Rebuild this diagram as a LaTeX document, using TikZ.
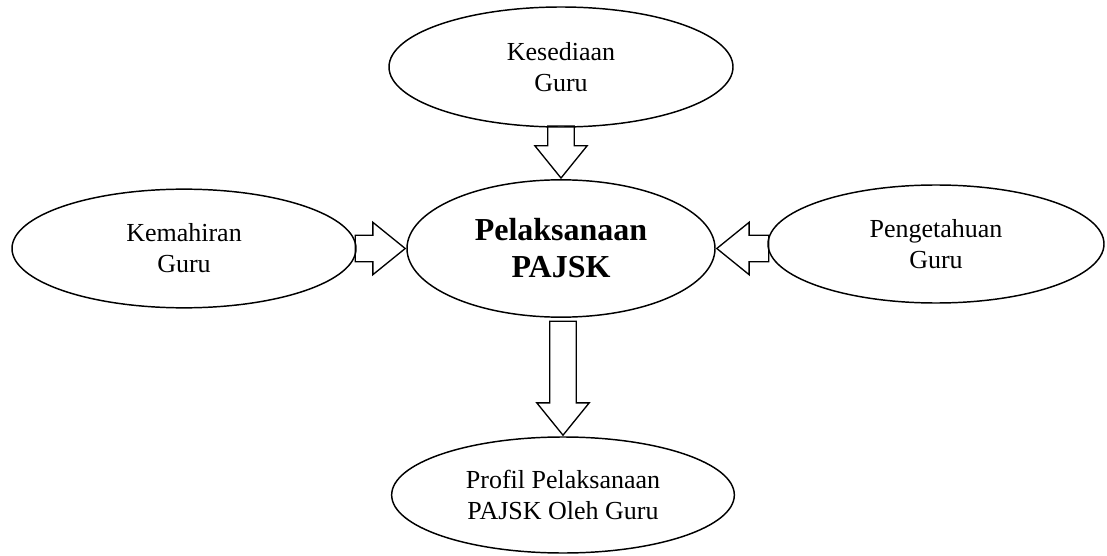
\documentclass[tikz,border=0pt]{standalone}
\usepackage{fontspec}
\setmainfont{Liberation Serif}
\usetikzlibrary{shapes.geometric,shapes.arrows}
\tikzset{
  factor/.style={draw, line width=1.1pt, ellipse, align=center, inner sep=0pt,
    font=\fontsize{19.5}{23.25}\selectfont},
  mainfactor/.style={factor, font=\fontsize{24}{27.75}\selectfont\bfseries},
  blockarrow/.style={draw, line width=1pt, single arrow, anchor=tip,
    inner xsep=0pt, inner ysep=9.4pt, single arrow head extend=9.75pt,
    single arrow tip angle=78, minimum height=#1},
  blockarrow/.default=39pt
}
\begin{document}
\begin{tikzpicture}[x=0.75pt,y=0.75pt,yscale=-1,xscale=1]
\useasboundingbox (0,0) rectangle (1107,556);

%Ellipses
\node[factor, minimum width=258pt, minimum height=90pt] (kes) at (561,67) {Kesediaan\\Guru};
\node[mainfactor, minimum width=231pt, minimum height=103pt] (pel) at (561,248.5) {Pelaksanaan\\PAJSK};
\node[factor, minimum width=258pt, minimum height=89pt] (kem) at (184,248.5) {Kemahiran\\Guru};
\node[factor, minimum width=252pt, minimum height=88.5pt] (peng) at (936,244) {Pengetahuan\\Guru};
\node[factor, minimum width=257pt, minimum height=87pt] (prof) at (563,495) {Profil Pelaksanaan\\PAJSK Oleh Guru};

%Block arrows
\node[blockarrow, rotate=-90] (kes-pel) at (pel.north) {};
\node[blockarrow=37.5pt] (kem-pel) at (pel.west) {};
\node[blockarrow, rotate=180] (peng-pel) at (pel.east) {};
\node[blockarrow=85.5pt, rotate=-90] (pel-prof) at (prof.north) {};

\end{tikzpicture}
\end{document}
